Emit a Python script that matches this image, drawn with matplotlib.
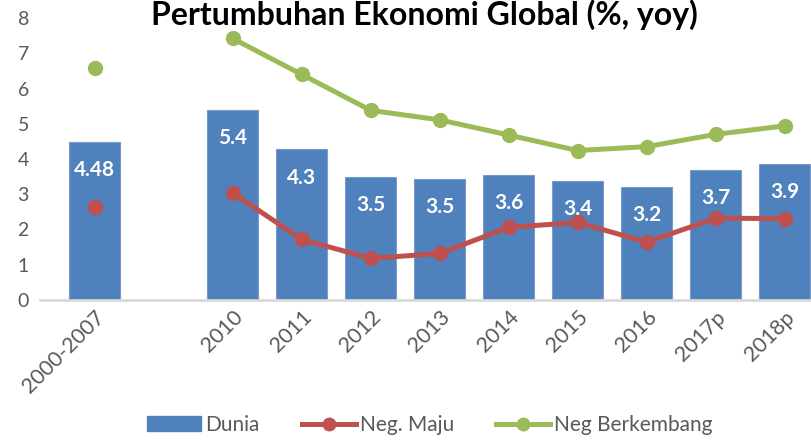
import numpy as np
import matplotlib.pyplot as plt
from matplotlib.lines import Line2D
from matplotlib.patches import Patch

plt.rcParams['font.family'] = ['Lato', 'DejaVu Sans']

# data
kategori = ['2000-2007', '', '2010', '2011', '2012', '2013', '2014', '2015', '2016', '2017p', '2018p']
dunia = [4.48, np.nan, 5.4, 4.27, 3.49, 3.44, 3.54, 3.38, 3.2, 3.69, 3.85]
label_dunia = ['4.48', '', '5.4', '4.3', '3.5', '3.5', '3.6', '3.4', '3.2', '3.7', '3.9']
neg_maju = [2.63, np.nan, 3.04, 1.72, 1.18, 1.32, 2.06, 2.2, 1.64, 2.32, 2.31]
neg_berkembang = [6.58, np.nan, 7.42, 6.4, 5.38, 5.11, 4.68, 4.24, 4.35, 4.7, 4.94]

biru = '#4F81BD'
merah = '#C0504D'
hijau = '#9BBB59'
abu = '#595959'

fig = plt.figure(figsize=(8.11, 4.42), dpi=100)
ax = fig.add_axes([40/811, 1-300/442, 1-40/811, 282/442])

x = np.arange(len(kategori))
ax.bar(x, dunia, width=0.74, color=biru, edgecolor='#7A9CCB', linewidth=0.8, zorder=2)
for xi, v, s in zip(x, dunia, label_dunia):
    if s:
        ax.text(xi, v - 0.8, s, ha='center', va='center', color='white',
                fontsize=15, fontweight='bold', zorder=5)

ax.plot(x, neg_maju, color=merah, lw=3.6, marker='o', ms=10, zorder=3)
ax.plot(x, neg_berkembang, color=hijau, lw=3.6, marker='o', ms=10, zorder=3)

ax.set_ylim(0, 8)
ax.set_xlim(-0.79, 10.38)
ax.set_yticks(range(0, 9))
ax.set_xticks(x)
ax.set_xticklabels(kategori, rotation=45, ha='right', rotation_mode='anchor')
ax.tick_params(axis='both', length=0, labelcolor=abu)
ax.tick_params(axis='y', pad=8, labelsize=14)
ax.tick_params(axis='x', pad=5, labelsize=15.5)
for sp in ['top', 'right', 'left']:
    ax.spines[sp].set_visible(False)
ax.spines['bottom'].set_color('#D9D9D9')
ax.spines['bottom'].set_linewidth(2)

fig.text(424/811, 1-25/442, 'Pertumbuhan Ekonomi Global (%, yoy)', ha='center',
         va='baseline', fontsize=23, fontweight='bold', color='black')

handles = [Patch(facecolor=biru, edgecolor=biru),
           Line2D([], [], color=merah, lw=3.6, marker='o', ms=9),
           Line2D([], [], color=hijau, lw=3.6, marker='o', ms=9)]
fig.legend(handles, ['Dunia', 'Neg. Maju', 'Neg Berkembang'], loc='center',
           bbox_to_anchor=(430/811, 1-425/442), ncol=3, frameon=False,
           fontsize=15, labelcolor=abu, handlelength=2.6, handletextpad=0.2,
           columnspacing=2.0)

fig.savefig('out.png', dpi=100)
